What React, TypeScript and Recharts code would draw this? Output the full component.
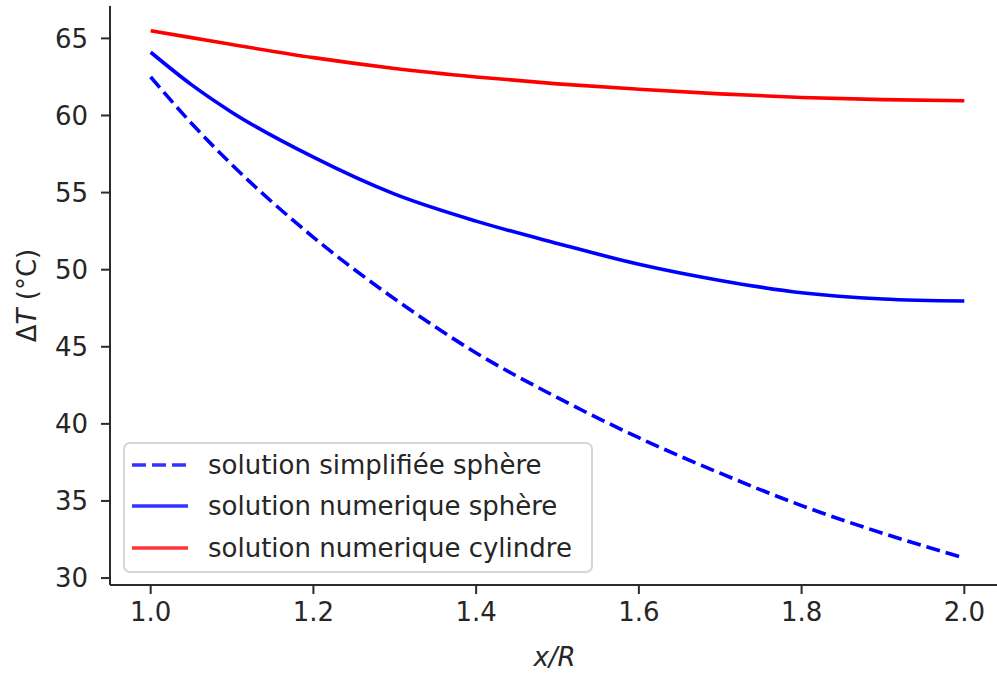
import { Legend, Line, LineChart, XAxis, YAxis } from "recharts";

// x/R
const xR = [1.0, 1.05, 1.1, 1.2, 1.3, 1.4, 1.5, 1.6, 1.7, 1.8, 1.9, 2.0];
// ΔT (°C)
const simplifieeSphere = [62.5, 59.5, 56.8, 52.1, 48.1, 44.6, 41.7, 39.1, 36.8, 34.7, 32.9, 31.3];
const numeriqueSphere = [64.1, 62.0, 60.2, 57.3, 54.9, 53.15, 51.7, 50.35, 49.3, 48.5, 48.1, 47.97];
const numeriqueCylindre = [65.5, 65.05, 64.6, 63.75, 63.05, 62.5, 62.05, 61.7, 61.4, 61.17, 61.03, 60.96];

const xTicks = [1.0, 1.2, 1.4, 1.6, 1.8, 2.0];
const yTicks = [30, 35, 40, 45, 50, 55, 60, 65];

const series = [
  { key: "simplifiee", name: "solution simplifiée sphère", color: "#0000ff", dash: "14 6" },
  { key: "numSphere", name: "solution numerique sphère", color: "#0000ff", dash: undefined },
  { key: "numCyl", name: "solution numerique cylindre", color: "#ff0000", dash: undefined },
];

const data = xR.map((x, i) => ({
  x,
  simplifiee: simplifieeSphere[i],
  numSphere: numeriqueSphere[i],
  numCyl: numeriqueCylindre[i],
}));

const FONT = "'DejaVu Sans', sans-serif";
const INK = "#262626";
const SPINE = "#2b2b2b";
const FS = 26;

const LegendBox = () => (
  <div
    style={{
      width: 470,
      height: 131,
      border: "2px solid #d6d6d6",
      borderRadius: 7,
      background: "rgba(255,255,255,0.8)",
      fontFamily: FONT,
      fontSize: FS,
      color: INK,
      boxSizing: "border-box",
      paddingTop: 0,
    }}
  >
    {series.map((s) => (
      <div key={s.key} style={{ display: "flex", alignItems: "center", height: 41.5 }}>
        <svg width={83} height={20} style={{ flex: "none" }}>
          <line
            x1={7}
            x2={63}
            y1={10}
            y2={10}
            stroke={s.color}
            strokeWidth={3.6}
            strokeDasharray={s.dash}
            strokeOpacity={0.8}
          />
        </svg>
        <span style={{ whiteSpace: "nowrap" }}>{s.name}</span>
      </div>
    ))}
  </div>
);

export default function App() {
  return (
    <div style={{ position: "absolute", left: 0, top: 0, width: 997, height: 673, overflow: "hidden", background: "#fff" }}>
      <LineChart width={1010} height={673} data={data} margin={{ top: 6, right: 5, bottom: 0, left: 0 }}>
        <XAxis
          dataKey="x"
          type="number"
          domain={[0.95, 2.05]}
          ticks={xTicks}
          allowDataOverflow
          height={88}
          tickFormatter={(v: number) => v.toFixed(1)}
          tick={{ fontSize: FS, fill: INK, fontFamily: FONT }}
          tickSize={9}
          tickMargin={9}
          axisLine={{ stroke: SPINE, strokeWidth: 2 }}
          tickLine={{ stroke: SPINE, strokeWidth: 2 }}
          label={{
            content: (props: any) => {
              const vb = props.viewBox;
              return (
                <text
                  x={vb.x + vb.width / 2 - 3}
                  y={666}
                  textAnchor="middle"
                  fontSize={FS}
                  fontFamily={FONT}
                  fontStyle="italic"
                  fill={INK}
                >
                  x/R
                </text>
              );
            },
          }}
        />
        <XAxis
          xAxisId="top"
          orientation="top"
          dataKey="x"
          type="number"
          domain={[0.95, 2.05]}
          height={0}
          tick={false}
          tickLine={false}
          axisLine={{ stroke: SPINE, strokeWidth: 2 }}
        />
        <YAxis
          type="number"
          domain={[29.55, 67.1]}
          ticks={yTicks}
          allowDataOverflow
          width={110}
          tick={{ fontSize: FS, fill: INK, fontFamily: FONT }}
          tickSize={9}
          tickMargin={13}
          axisLine={{ stroke: SPINE, strokeWidth: 2 }}
          tickLine={{ stroke: SPINE, strokeWidth: 2 }}
          label={{
            content: (props: any) => {
              const vb = props.viewBox;
              const cy = vb.y + vb.height / 2;
              return (
                <text
                  x={27}
                  y={cy}
                  transform={`rotate(-90, 27, ${cy})`}
                  textAnchor="middle"
                  dominantBaseline="central"
                  fontSize={FS}
                  fontFamily={FONT}
                  fill={INK}
                >
                  Δ<tspan fontStyle="italic">T</tspan> (°C)
                </text>
              );
            },
          }}
        />
        <Legend
          layout="vertical"
          align="center"
          verticalAlign="middle"
          content={() => <LegendBox />}
          wrapperStyle={{ position: "absolute", left: 123, top: 442, width: 470, height: 131 }}
        />
        {series.map((s) => (
          <Line
            key={s.key}
            dataKey={s.key}
            name={s.name}
            type="monotone"
            stroke={s.color}
            strokeWidth={3.6}
            strokeDasharray={s.dash}
            dot={false}
            activeDot={false}
            isAnimationActive={false}
          />
        ))}
      </LineChart>
    </div>
  );
}
